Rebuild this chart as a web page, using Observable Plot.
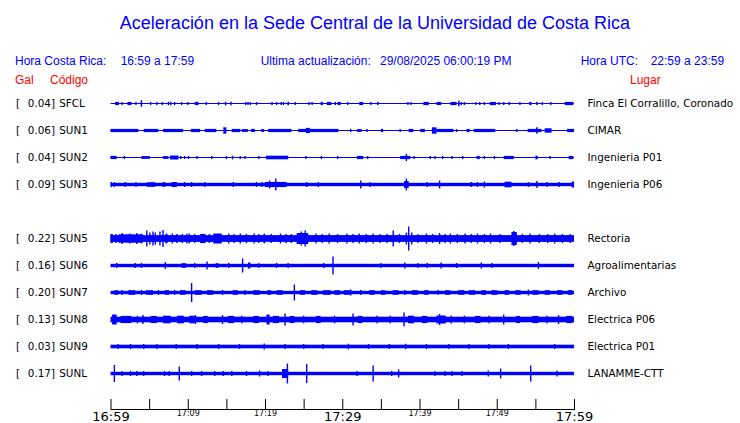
<!DOCTYPE html>
<html><head><meta charset="utf-8">
<script src="https://cdn.jsdelivr.net/npm/d3@7"></script>
<script src="https://cdn.jsdelivr.net/npm/@observablehq/plot@0.6"></script>
<style>
body{margin:0;background:#fff;}
#wrap{position:relative;width:740px;height:423px;overflow:hidden;background:#fff;}
#head{position:relative;height:90px;font-family:"Liberation Sans",Arial,sans-serif;}
.t{position:absolute;white-space:pre;line-height:1;}
#chart svg{display:block;}
</style></head><body>
<div id="wrap"><div id="head"></div><div id="chart"></div></div>
<script>
// ---------- texts ----------
const title = "Aceleración en la Sede Central de la Universidad de Costa Rica";
const horaCR = ["Hora Costa Rica:", "16:59 a 17:59"];
const ultima = ["Ultima actualización:", "29/08/2025 06:00:19 PM"];
const horaUTC = ["Hora UTC:", "22:59 a 23:59"];
const colHeads = ["Gal", "Código", "Lugar"];

// ---------- stations ----------
const codes  = ["SFCL", "SUN1", "SUN2", "SUN3", "SUN5", "SUN6", "SUN7", "SUN8", "SUN9", "SUNL"];
const gal    = [0.04, 0.06, 0.04, 0.09, 0.22, 0.16, 0.20, 0.13, 0.03, 0.17];
const places = ["Finca El Corralillo, Coronado", "CIMAR", "Ingenieria P01", "Ingenieria P06",
                "Rectoria", "Agroalimentarias", "Archivo", "Electrica P06", "Electrica P01", "LANAMME-CTT"];
const slots  = [0, 1, 2, 3, 5, 6, 7, 8, 9, 10];   // SUN4 slot is empty
const base   = [0.5, 0.5, 0.5, 1.7, 3.4, 1.7, 1.7, 2.8, 1.8, 1.7]; // trace half-width (px)

// events: [minute, halfAmp] spike or [startMinute, endMinute, halfAmp] burst (minutes after 16:59)
const evSFCL = [[0.6,1.1,1.6],[1.5,1.5],[2.2,2.7,1.6],[3.3,1.5],[3.9,4.1,3.2],[5.2,1.5],[6.0,1.5],[6.7,1.5],[7.5,1.8],[7.8,1.8],[8.3,1.5],[9.2,1.5],[10.0,1.5],[10.9,11.4,1.6],[12.4,1.5],[14.0,1.5],[14.8,15.0,1.8],[15.6,1.8],[17.5,1.5],[17.8,1.5],[18.1,1.5],[18.9,1.5],[20.9,1.5],[21.5,1.5],[22.0,22.1,1.5],[22.4,1.5],[22.9,23.0,1.8],[23.9,1.5],[25.7,1.5],[26.1,1.5],[27.2,27.5,1.6],[28.0,28.6,1.6],[29.0,29.1,1.6],[29.4,29.8,1.6],[30.7,1.5],[32.2,32.7,1.6],[33.7,1.5],[34.5,34.7,1.6],[38.5,1.5],[38.9,1.5],[40.5,41.2,1.6],[42.2,42.8,1.6],[44.0,44.8,1.6],[45.0,45.1,2.8],[45.4,1.5],[45.8,1.5],[47.3,1.5],[47.8,1.5],[48.4,1.5],[49.1,49.9,1.6],[50.3,1.5],[50.9,1.5],[51.5,51.7,1.6],[53.0,1.5],[54.2,54.5,1.6],[55.1,55.3,1.6],[55.9,1.5],[57.0,1.5],[58.8,59.9,1.6]];
const evSUN1 = [[0,3.6,1.6],[4.3,6.2,1.6],[6.8,9.4,1.6],[10.4,11.6,1.6],[12.2,13.7,1.6],[14.6,15.0,3.2],[15.7,16.8,1.6],[17.0,17.8,1.4],[18.2,18.7,1.6],[19.5,19.9,1.4],[20.4,23.4,1.6],[24.3,29.5,1.6],[25.3,25.8,2.6],[31.1,1.5],[31.9,32.5,1.4],[33.2,1.5],[35.0,35.3,1.6],[37.5,1.5],[38.6,39.2,1.6],[40.1,40.7,1.6],[41.6,42.2,3.2],[42.2,44.4,1.6],[44.8,1.5],[46.1,46.5,1.6],[47.0,49.8,1.6],[52.6,1.5],[54.0,55.8,1.6],[55.1,55.3,3.2],[56.2,57.1,2.2],[59.1,60,1.6]];
const evSUN2 = [[0,0.8,1.6],[1.8,1.5],[4.0,5.1,1.4],[6.8,7.5,1.4],[7.7,8.8,2.0],[9.1,1.5],[9.6,1.5],[10.1,1.5],[11.2,1.5],[13.1,1.5],[15.0,1.5],[15.8,1.8],[16.8,1.5],[17.4,1.5],[19.2,1.5],[20.1,23.0,1.8],[25.3,1.5],[27.3,1.5],[29.4,1.5],[31.9,32.7,1.6],[33.3,1.5],[37.5,38.8,1.6],[38.3,3.5],[39.3,1.5],[41.4,1.5],[42.0,1.5],[43.0,1.5],[44.2,1.5],[45.6,1.5],[47.4,47.8,1.6],[48.4,1.5],[49.7,1.5],[50.9,52.2,1.6],[55.0,55.3,1.8],[56.9,1.5],[59.3,59.9,1.6]];
const evSUN3 = [[0.1,2.5],[0.5,2.5],[1.9,2.5],[3.3,2.5],[4.7,5.8,2.3],[6.7,7.1,2.3],[7.9,8.6,2.5],[9.6,2.5],[10.5,2.5],[12.2,2.5],[15.9,2.5],[18.9,2.5],[19.6,2.5],[20.0,22.8,2.6],[20.6,4],[21.4,6],[25.4,2.5],[26.9,2.5],[32.4,4],[33.6,2.5],[38.0,38.6,3.5],[38.3,6],[41.0,2.5],[42.6,4],[46.7,2.5],[47.5,2.5],[48.4,3],[51.0,51.9,2.8],[54.1,2.5],[55.2,3.5],[56.5,2.5],[58.1,2.5],[59.7,60,3]];
const evSUN5 = [[0,0.3,4.5],[0.7,4.5],[1.0,4.2,4.2],[1.5,5.5],[2.5,5],[3.4,5.5],[4.0,4.8],[4.7,8],[5.1,6],[5.5,7],[5.8,6],[6.4,7],[6.8,8.5],[7.2,5],[7.3,4.5],[8.0,5],[8.6,4.5],[9.3,4.5],[9.9,5],[10.2,5],[10.9,4.5],[11.6,12.3,4.6],[12.8,4.5],[13.3,14.4,5],[15.3,5],[16.0,4.5],[16.8,5],[17.6,4.5],[18.6,5],[19.2,4.5],[19.9,5],[20.8,4.5],[22.0,5],[22.7,4.5],[23.4,4.5],[24.1,25.6,5.5],[25.2,8],[24.7,7],[26.6,5],[27.4,4.5],[28.3,5],[29.4,4.5],[30.6,5],[31.4,4.5],[32.2,5],[33.1,4.5],[34.0,5],[34.9,4.5],[35.8,4.5],[36.6,8],[37.4,4.5],[38.6,12],[38.3,6],[39.0,6],[39.8,4.5],[40.9,5],[41.7,4.5],[42.6,5.5],[43.3,4.5],[44.0,5],[44.9,4.5],[45.9,5],[46.7,4.5],[47.5,5],[48.4,4.5],[49.2,5],[50.4,4.5],[51.9,52.6,6.5],[52.2,7.5],[53.3,4.5],[54.3,5],[55.5,4.5],[56.6,4.5],[57.5,5],[58.5,4.5],[59.5,4.5]];
const evSUN6 = [[0.8,2.5],[3.2,2.5],[4.0,2.5],[7.1,3.5],[9.2,9.8,2.3],[10.9,2.5],[12.5,4],[13.6,14.0,2.3],[15.3,2.5],[17.1,7],[17.8,18.1,3],[19.2,2.5],[21.5,2.5],[23.0,2.5],[27.6,2.5],[28.8,9],[35.0,2.5],[38.1,3],[39.8,2.5],[41.0,2.5],[42.8,3],[44.8,2.5],[48.0,3],[49.4,2.5],[55.4,3.5]];
const evSUN7 = [[0.5,1.0,2.3],[1.5,2.5],[2.3,3.2,2.3],[4.0,2.5],[4.6,5.5,2.3],[6.2,2.5],[7.0,7.6,2.3],[8.3,2.5],[9.0,9.7,2.3],[10.5,9.5],[10.9,11.8,2.3],[12.5,13.3,2.3],[14.5,2.5],[15.8,16.5,2.3],[17.4,2.5],[18.5,19.3,2.3],[20.3,20.8,2.3],[21.5,22.3,2.3],[23.8,8],[24.5,25.2,2.3],[26.0,26.8,2.3],[27.5,28.5,2.3],[29.0,29.7,2.3],[30.2,31.0,2.3],[31.1,3],[32.4,2.5],[33.5,34.2,2.3],[35.0,35.6,2.3],[36.5,37.3,2.3],[38.1,2.5],[39.0,39.8,2.3],[40.6,41.2,2.3],[42.4,2.5],[43.3,44.0,2.3],[45.0,45.8,2.3],[46.4,47.2,2.3],[48.0,48.6,2.3],[49.3,50.1,2.3],[51.0,51.6,2.3],[52.4,53.1,2.3],[54.1,3],[54.6,55.4,2.3],[56.2,56.9,2.3],[57.8,58.5,2.3],[59.2,59.8,2.3]];
const evSUN8 = [[0.2,0.8,5],[1.3,2.7,3.6],[3.5,3.8],[4.2,4.5],[5.2,6.0,3.6],[6.8,7.8,3.8],[8.6,9.5,3.8],[10.2,10.9,3.8],[11.0,4.5],[12.0,12.6,3.6],[14.5,4.5],[15.2,16.0,3.6],[17.0,3.8],[18.5,19.2,3.6],[20.2,20.6,5],[21.0,21.8,3.6],[22.6,6],[23.2,23.8,3.6],[25.0,3.8],[26.6,27.2,3.6],[29.0,3.8],[31.4,6],[32.0,32.6,3.6],[34.5,3.8],[36.2,3.8],[38.0,7],[38.5,39.3,3.8],[40.3,41.0,3.6],[42.6,5.5],[42.2,43.4,4.0],[44.1,4],[45.8,3.8],[47.2,47.9,3.6],[49.0,3.8],[50.9,5],[52.5,53.0,3.6],[54.6,55.4,3.6],[56.5,3.8],[58.0,4.5],[59.0,59.8,3.6]];
const evSUN9 = [[1.0,2.5],[2.6,2.5],[4.3,2.5],[6.0,2.5],[8.5,2.5],[11.2,2.5],[14.0,2.5],[16.7,2.5],[19.9,3],[22.6,2.5],[25.0,2.5],[27.5,2.5],[30.8,2.8],[33.4,2.5],[36.1,2.5],[38.2,2.8],[40.9,2.5],[43.8,2.5],[46.4,2.5],[49.0,2.5],[51.5,2.5],[57.5,2.5]];
const evSUNL = [[0.5,8.5],[1.5,2.5],[2.6,2.5],[3.4,2.5],[4.3,2.5],[7.0,2.5],[7.6,2.5],[8.9,7],[10.5,2.5],[11.8,2.5],[13.5,2.5],[14.6,2.5],[15.7,2.5],[17.6,2.5],[19.3,3],[20.4,2.5],[22.2,23.0,4.5],[22.9,10],[25.4,9.5],[31.9,2.5],[34.0,8],[36.4,2.5],[37.3,4],[42.0,2.5],[43.3,2.5],[44.2,2.5],[45.5,2.5],[48.9,3],[50.5,5],[54.4,8],[57.8,3]];
const events = [evSFCL, evSUN1, evSUN2, evSUN3, evSUN5, evSUN6, evSUN7, evSUN8, evSUN9, evSUNL];

// ---------- time axis ----------
const tickMinutes = [0,5,10,15,20,25,30,35,40,45,50,55,60];
const majorMinutes = [0, 30, 60];
const majorLabels = ["16:59", "17:29", "17:59"];
const minorMinutes = [10, 20, 40, 50];
const minorLabels = ["17:09", "17:19", "17:39", "17:49"];

// ---------- header (HTML) ----------
const head = document.getElementById("head");
function put(text, left, baseline, size, color, center) {
  const d = document.createElement("div");
  d.className = "t";
  d.textContent = text;
  d.style.fontSize = size + "px";
  d.style.color = color;
  d.style.top = (baseline - 0.8465 * size) + "px";
  if (center) { d.style.left = "0"; d.style.width = "740px"; d.style.textAlign = "center"; d.style.marginLeft = (left - 370) + "px"; }
  else d.style.left = left + "px";
  head.appendChild(d);
}
const BLUE = "#0000ff", RED = "#ff0000";
put(title, 375, 29, 18, BLUE, true);
put(horaCR[0], 15, 65, 12, BLUE); put(horaCR[1], 120.7, 65, 12, BLUE);
put(ultima[0], 260.7, 65, 12, BLUE); put(ultima[1], 380, 65, 12, BLUE);
put(horaUTC[0], 580.7, 65, 12, BLUE); put(horaUTC[1], 650.7, 65, 12, BLUE);
put(colHeads[0], 15, 84, 12, RED); put(colHeads[1], 50, 84, 12, RED); put(colHeads[2], 630, 84, 12, RED);

// ---------- tables ----------
const stations = codes.map((c, i) => ({code: c, gal: gal[i], place: places[i], slot: slots[i], base: base[i]}));
const K = 1 / 27; // px -> slot units
const pieces = [];
stations.forEach((s, i) => {
  pieces.push({t0: 0, t1: 60, lo: s.slot - s.base * K, hi: s.slot + s.base * K});
  for (const e of events[i]) {
    let t0, t1, a;
    if (e.length === 2) { t0 = e[0] - 0.09; t1 = e[0] + 0.09; a = e[1]; }
    else { t0 = e[0]; t1 = Math.max(e[1], e[0] + 0.2); a = e[2]; }
    pieces.push({t0, t1, lo: s.slot - a * K, hi: s.slot + a * K});
  }
});

const W = 740, H = 333;
const chart = Plot.plot({
  width: W, height: H,
  marginLeft: 110.5, marginRight: 166, marginTop: 309, marginBottom: 14,
  style: {fontFamily: "DejaVu Sans", background: "#fff", color: "#000"},
  x: {domain: [0, 60], axis: null},
  y: {domain: [0, 10], range: [13.5, 283.5], axis: null},
  marks: [
    Plot.rect(pieces, {x1: "t0", x2: "t1", y1: "lo", y2: "hi", fill: BLUE}),
    Plot.text(stations, {y: "slot", frameAnchor: "left", text: () => "[", dx: -95, textAnchor: "start", fontSize: 10.4, fill: "#000"}),
    Plot.text(stations, {y: "slot", frameAnchor: "left", text: d => d.gal.toFixed(2) + "]", dx: -56, textAnchor: "end", fontSize: 10.4, fill: "#000"}),
    Plot.text(stations, {y: "slot", frameAnchor: "left", text: "code", dx: -51.8, textAnchor: "start", fontSize: 10.4, fill: "#000"}),
    Plot.text(stations, {y: "slot", frameAnchor: "right", text: "place", dx: 13, textAnchor: "start", fontSize: 10.4, fill: "#000"}),
    Plot.tickX(tickMinutes, {x: d => d, stroke: "#000", strokeWidth: 1}),
    Plot.frame({anchor: "bottom", stroke: "#000", strokeWidth: 1}),
    Plot.text(majorMinutes, {x: d => d, text: (d, i) => majorLabels[i], frameAnchor: "bottom", dy: 11, fontSize: 13, fill: "#000"}),
    Plot.text(minorMinutes, {x: d => d, text: (d, i) => minorLabels[i], frameAnchor: "bottom", dy: 6, fontSize: 8, fill: "#000"})
  ]
});
document.getElementById("chart").appendChild(chart);
</script>
</body></html>
